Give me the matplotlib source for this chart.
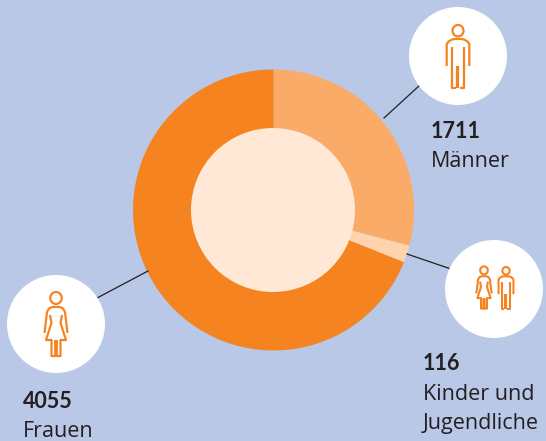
#!/usr/bin/env python3
"""Donut chart: Männer, Kinder und Jugendliche, Frauen."""
import numpy as np
import matplotlib
matplotlib.use('Agg')
import matplotlib.pyplot as plt
from matplotlib.patches import Circle, Ellipse

W, H = 546, 441

labels = ['Männer', 'Kinder und\nJugendliche', 'Frauen']
values = [1711, 116, 4055]
colors = ['#FBAB68', '#FFD3AC', '#F58420']

BG = '#B8C8E6'
ORANGE = '#F58420'
TEXT = '#231F20'


def py(y):
    """Image y (from the top) to axes y."""
    return H - y


def draw_lines(ax, cx, cy, paths, scale, lw):
    # paths are in icon units, y pointing down, relative to icon centre
    for p in paths:
        p = np.array(p, dtype=float)
        ax.plot(cx + p[:, 0] * scale, py(cy + p[:, 1] * scale), color=ORANGE,
                lw=lw, solid_joinstyle='round', solid_capstyle='butt', zorder=6)


def man(ax, cx, cy, scale=1.0, lw=1.6):
    ax.add_patch(Ellipse((cx, py(cy - 25.3 * scale)), 11 * scale, 11.5 * scale,
                         fc='none', ec=ORANGE, lw=lw, zorder=6))
    paths = [
        [(-11.3, 10), (-11.3, -12), (-9.5, -14.5), (-6, -16.5), (-3, -17), (3, -17),
         (6, -16.5), (9.5, -14.5), (11.3, -12), (11.3, 10)],
        [(-6.2, -9), (-6.2, 32), (-2.5, 32)],
        [(6, -9), (6, 32), (2.2, 32)],
        [(0, 10), (0, 32)],
        [(-1, 10), (-1, 32)],
    ]
    draw_lines(ax, cx, cy, paths, scale, lw)


def woman(ax, cx, cy, scale=1.0, lw=1.6):
    ax.add_patch(Ellipse((cx, py(cy - 26 * scale)), 11.5 * scale, 12 * scale,
                         fc='none', ec=ORANGE, lw=lw, zorder=6))
    paths = [
        [(-11.5, 9), (-9, -12), (-7, -15.5), (-4, -17), (4, -17), (7, -15.5), (9, -12), (11.5, 9)],
        [(-6, -9), (-4.5, -1), (-10, 16), (-4.5, 16), (-4.5, 32), (-0.8, 32), (-0.8, 16)],
        [(6, -9), (4.5, -1), (10, 16), (4.5, 16), (4.5, 32), (0.8, 32), (0.8, 16)],
    ]
    draw_lines(ax, cx, cy, paths, scale, lw)


fig = plt.figure(figsize=(W / 100, H / 100), dpi=100, facecolor=BG)
ax = fig.add_axes([0, 0, 1, 1])

ax.pie(values, colors=colors, startangle=90, counterclock=False,
       center=(273.5, py(210)), radius=140.5,
       wedgeprops={'width': 140.5, 'linewidth': 0})
ax.add_patch(Circle((273, py(210)), 82, fc='#FFE8D6', ec='none', zorder=3))

ax.set_xlim(0, W)
ax.set_ylim(0, H)
ax.set_aspect('equal')
ax.axis('off')

# connector lines
for (x0, y0), (x1, y1) in [((384, 118), (420, 85)),
                           ((407, 254), (451, 269)),
                           ((148, 271), (97, 298))]:
    ax.plot([x0, x1], [py(y0), py(y1)], color='#231F20', lw=0.9, zorder=4)

# white badges
for cx, cy in [(458, 56), (494, 289), (56, 324)]:
    ax.add_patch(Circle((cx, py(cy)), 49, fc='white', ec='none', zorder=5))

man(ax, 458, 56)
woman(ax, 56, 324)
woman(ax, 484, 287.5, scale=0.66, lw=1.5)
man(ax, 506, 287.5, scale=0.66, lw=1.5)

text_pos = [(431, 138, 167), (423, 370, 400), (23, 408, 437)]
for val, lab, (x, y_val, y_lab) in zip(values, labels, text_pos):
    ax.text(x, py(y_val), str(val), family=['Lato', 'DejaVu Sans'], fontsize=15.5,
            fontweight='bold', color=TEXT, ha='left', va='baseline', zorder=7)
    for i, line in enumerate(lab.split('\n')):
        ax.text(x, py(y_lab + i * 29), line, family=['Open Sans', 'DejaVu Sans'],
                fontsize=15.5, color=TEXT, ha='left', va='baseline', zorder=7)

fig.savefig('out.png', dpi=100, facecolor=BG)
